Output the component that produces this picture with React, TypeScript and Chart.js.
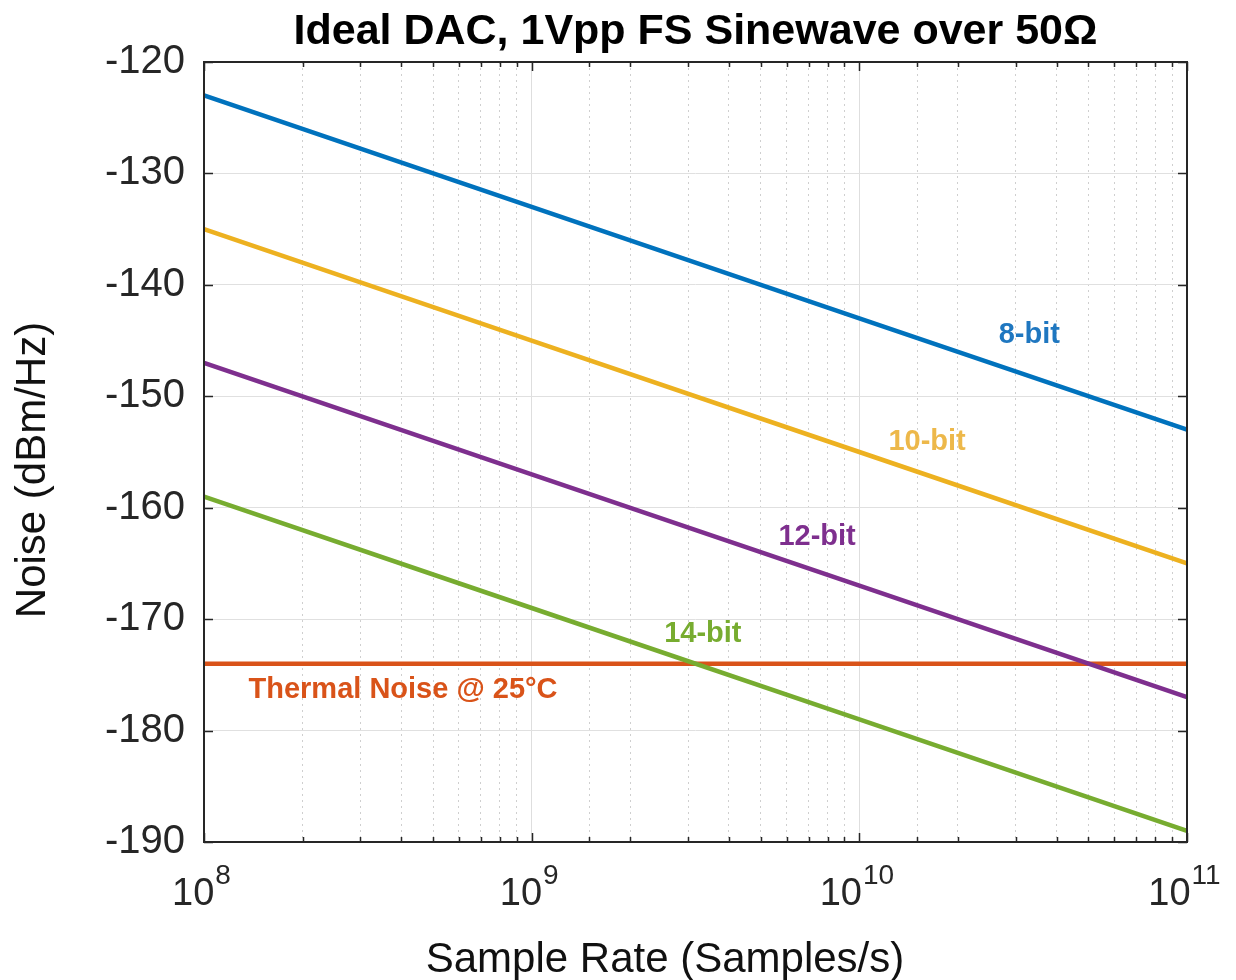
import React, { useEffect, useRef } from "react";
import { Chart, registerables } from "chart.js";

Chart.register(...registerables);

const sampleRates = [1e8, 1e9, 1e10, 1e11];
const noise8bit = [-123, -133, -143, -153];
const noise10bit = [-135, -145, -155, -165];
const noise12bit = [-147, -157, -167, -177];
const noise14bit = [-159, -169, -179, -189];
const thermalNoise = [-174, -174, -174, -174];

const seriesNames = ["8-bit", "10-bit", "12-bit", "14-bit", "Thermal Noise"];
const seriesColors = ["#0072BD", "#EDB120", "#7E2F8E", "#77AC30", "#D95319"];

const labelTexts = ["8-bit", "10-bit", "12-bit", "14-bit", "Thermal Noise @ 25°C"];
const labelColors = ["#1F77C0", "#EDB84A", "#7E2F8E", "#77AC30", "#D95319"];
const labelX = [3.3e10, 1.61e10, 7.43e9, 3.33e9, 4.05e8];
const labelY = [-144.5, -154.1, -162.6, -171.3, -176.4];

const yTicks = [-190, -180, -170, -160, -150, -140, -130, -120];
const xDecades = [8, 9, 10, 11];

const titleText = "Ideal DAC, 1Vpp FS Sinewave over 50Ω";
const xTitleText = "Sample Rate (Samples/s)";
const yTitleText = "Noise (dBm/Hz)";

const FONT = "'Liberation Sans', Arial, Helvetica, sans-serif";
const AXIS_COLOR = "#262626";

const isDecade = (v: number) => {
  const l = Math.log10(v);
  return Math.abs(l - Math.round(l)) < 1e-6;
};

const decorPlugin = {
  id: "decor",
  afterDraw(chart: any) {
    const { ctx, chartArea } = chart;
    const xs = chart.scales.x;
    const ys = chart.scales.y;
    const { left, right, top, bottom } = chartArea;
    ctx.save();
    // inward ticks
    ctx.strokeStyle = AXIS_COLOR;
    ctx.lineWidth = 1.5;
    ctx.beginPath();
    xs.ticks.forEach((t: any) => {
      const px = Math.round(xs.getPixelForValue(t.value)) + 0.5;
      const len = isDecade(t.value) ? 9 : 5;
      ctx.moveTo(px, bottom);
      ctx.lineTo(px, bottom - len);
      ctx.moveTo(px, top);
      ctx.lineTo(px, top + len);
    });
    yTicks.forEach((v) => {
      const py = Math.round(ys.getPixelForValue(v)) + 0.5;
      ctx.moveTo(left, py);
      ctx.lineTo(left + 9, py);
      ctx.moveTo(right, py);
      ctx.lineTo(right - 9, py);
    });
    ctx.stroke();
    // frame
    ctx.lineWidth = 2;
    ctx.strokeRect(left, top, right - left, bottom - top);

    // title
    ctx.fillStyle = "#000";
    ctx.font = `bold 43px ${FONT}`;
    ctx.textAlign = "center";
    ctx.textBaseline = "alphabetic";
    ctx.fillText(titleText, (left + right) / 2, 44);

    // x tick labels with superscripts
    ctx.fillStyle = AXIS_COLOR;
    xDecades.forEach((e) => {
      const px = xs.getPixelForValue(Math.pow(10, e));
      ctx.font = `38px ${FONT}`;
      const wBase = ctx.measureText("10").width;
      ctx.font = `28px ${FONT}`;
      const wExp = ctx.measureText(String(e)).width;
      const x0 = px - (wBase + wExp) / 2 - 3;
      ctx.font = `38px ${FONT}`;
      ctx.textAlign = "left";
      ctx.fillText("10", x0, 905);
      ctx.font = `28px ${FONT}`;
      ctx.fillText(String(e), x0 + wBase + 1, 884);
    });

    // x axis title
    ctx.font = `42px ${FONT}`;
    ctx.textAlign = "center";
    ctx.fillStyle = "#111";
    ctx.fillText(xTitleText, 665, 972);

    // y axis title
    ctx.save();
    ctx.translate(33, 470);
    ctx.rotate(-Math.PI / 2);
    ctx.font = `42px ${FONT}`;
    ctx.textAlign = "center";
    ctx.textBaseline = "middle";
    ctx.fillStyle = "#111";
    ctx.fillText(yTitleText, 0, 0);
    ctx.restore();

    // line labels
    ctx.textAlign = "center";
    ctx.textBaseline = "middle";
    labelTexts.forEach((txt, i) => {
      const px = xs.getPixelForValue(labelX[i]);
      const py = ys.getPixelForValue(labelY[i]);
      ctx.font = `bold 29px ${FONT}`;
      ctx.fillStyle = labelColors[i];
      ctx.fillText(txt, px, py);
    });
    ctx.restore();
  },
};

export default function App() {
  const canvasRef = useRef<HTMLCanvasElement | null>(null);

  useEffect(() => {
    document.body.style.margin = "0";
    const canvas = canvasRef.current;
    if (!canvas) return;
    const allSeries = [noise8bit, noise10bit, noise12bit, noise14bit, thermalNoise];
    const chart = new Chart(canvas, {
      type: "line",
      data: {
        datasets: allSeries.map((vals, i) => ({
          label: seriesNames[i],
          data: sampleRates.map((x, j) => ({ x, y: vals[j] })),
          borderColor: seriesColors[i],
          backgroundColor: seriesColors[i],
          borderWidth: 4.5,
          pointRadius: 0,
          tension: 0,
          fill: false,
        })),
      },
      options: {
        responsive: false,
        animation: false,
        devicePixelRatio: 1,
        layout: { padding: { left: 0, right: 49, top: 62, bottom: 0 } },
        plugins: {
          legend: { display: false },
          tooltip: { enabled: false },
          title: { display: false },
        },
        scales: {
          x: {
            type: "logarithmic",
            min: 1e8,
            max: 1e11,
            ticks: { display: false, autoSkip: false },
            grid: {
              drawTicks: false,
              color: (c: any) =>
                c.tick && isDecade(c.tick.value) ? "#dedede" : "#cfcfcf",
              lineWidth: 1,
            },
            border: {
              display: false,
              dash: (c: any) =>
                c.tick && !isDecade(c.tick.value) ? [2, 4] : [],
            },
            afterFit: (s: any) => {
              s.height = 138;
            },
          },
          y: {
            type: "linear",
            min: -190,
            max: -120,
            ticks: {
              stepSize: 10,
              color: AXIS_COLOR,
              font: { family: FONT, size: 40 },
              padding: 19,
            },
            grid: { drawTicks: false, color: "#e0e0e0", lineWidth: 1 },
            border: { display: false },
            afterFit: (s: any) => {
              s.width = 204;
            },
          },
        },
      },
      plugins: [decorPlugin],
    });
    return () => chart.destroy();
  }, []);

  return (
    <div style={{ width: 1236, height: 980, background: "#fff" }}>
      <canvas ref={canvasRef} width={1236} height={980} />
    </div>
  );
}
